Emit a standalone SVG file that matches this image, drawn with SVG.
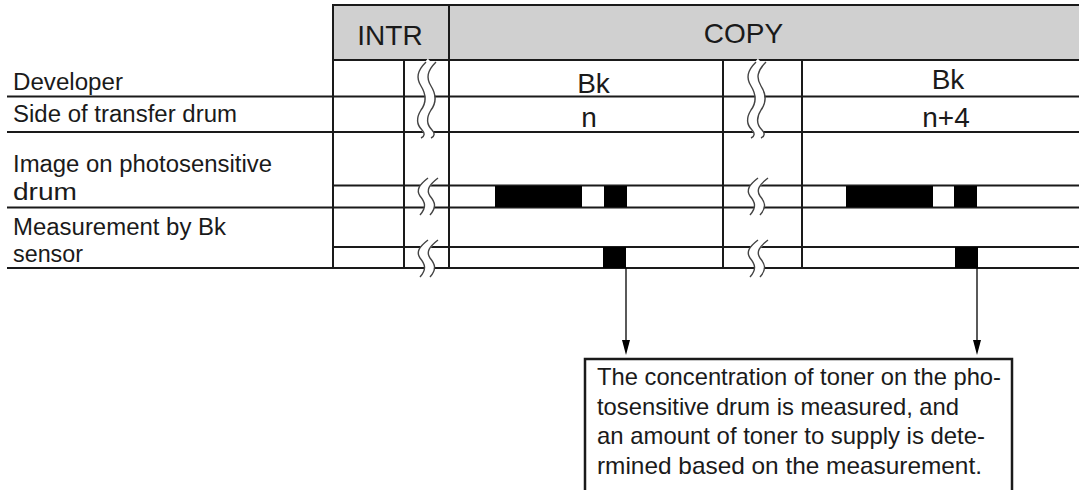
<svg xmlns="http://www.w3.org/2000/svg" width="1079" height="490" viewBox="0 0 1079 490">
<defs>
<style>
.ln{stroke:#1a1a1a;stroke-width:2;fill:none}
.txt{font-family:"Liberation Sans",Arial,sans-serif;fill:#1a1a1a}
.lbl{font-size:23px}
.hdr{font-size:28px;text-anchor:middle}
.cell{font-size:28px;text-anchor:middle}
.note{font-size:24px}
.wave{stroke:#444;stroke-width:1.4;fill:none}
.gap{stroke:#fff;stroke-width:9;fill:none}
.blk{fill:#000}
</style>
<path id="sw" d="M 12 0 C 3 7, 0 12, 4 18 C 9 24, 11 29, 4 37"/>
<path id="tw" d="M 10 0 C 1 9, 0 16, 5 24 C 10 32, 11 40, 5 48 C 0 56, 1 63, 6 68 C 9 71, 9 74, 5 76"/>
<g id="sq-short">
<use href="#sw" class="gap" x="5"/>
<use href="#sw" class="wave"/>
<use href="#sw" class="wave" x="10"/>
</g>
<g id="sq-tall">
<use href="#tw" class="gap" x="5"/>
<use href="#tw" class="wave"/>
<use href="#tw" class="wave" x="10"/>
</g>
</defs>
<rect width="1079" height="490" fill="#fff"/>

<g id="header">
<rect x="333" y="5" width="746" height="55" fill="#d0d0d0"/>
<g id="node-intr"><text class="txt hdr" x="390" y="45">INTR</text></g>
<g id="node-copy"><text class="txt hdr" x="743.5" y="43">COPY</text></g>
</g>

<g id="grid">
<line class="ln" x1="333" y1="5" x2="1079" y2="5"/>
<line class="ln" x1="333" y1="60" x2="1079" y2="60"/>
<line class="ln" x1="7" y1="96.5" x2="1079" y2="96.5"/>
<line class="ln" x1="7" y1="132" x2="1079" y2="132"/>
<line class="ln" x1="333" y1="185.5" x2="1079" y2="185.5"/>
<line class="ln" x1="7" y1="207.5" x2="1079" y2="207.5"/>
<line class="ln" x1="333" y1="247" x2="1079" y2="247"/>
<line class="ln" x1="7" y1="268" x2="1079" y2="268"/>
<line class="ln" x1="333" y1="4" x2="333" y2="269"/>
<line class="ln" x1="404" y1="60" x2="404" y2="269"/>
<line class="ln" x1="449" y1="4" x2="449" y2="269"/>
<line class="ln" x1="723" y1="60" x2="723" y2="269"/>
<line class="ln" x1="802" y1="60" x2="802" y2="269"/>
</g>

<g id="squiggles">
<use href="#sq-tall" x="416" y="62"/>
<use href="#sq-short" x="416" y="178"/>
<use href="#sq-short" x="416" y="240"/>
<use href="#sq-tall" x="746" y="62"/>
<use href="#sq-short" x="746" y="178"/>
<use href="#sq-short" x="746" y="240"/>
</g>

<g id="row-labels">
<g id="node-developer"><text class="txt lbl" x="13" y="90" textLength="110" lengthAdjust="spacingAndGlyphs">Developer</text></g>
<g id="node-side"><text class="txt lbl" x="13" y="122" textLength="224" lengthAdjust="spacingAndGlyphs">Side of transfer drum</text></g>
<g id="node-image"><text class="txt lbl" x="13" y="172" textLength="259" lengthAdjust="spacingAndGlyphs">Image on photosensitive</text>
<text class="txt lbl" x="13" y="200" textLength="64" lengthAdjust="spacingAndGlyphs">drum</text></g>
<g id="node-measure"><text class="txt lbl" x="13" y="235" textLength="213" lengthAdjust="spacingAndGlyphs">Measurement by Bk</text>
<text class="txt lbl" x="13" y="262" textLength="70" lengthAdjust="spacingAndGlyphs">sensor</text></g>
</g>

<g id="cells">
<g id="node-bk1"><text class="txt cell" x="593.5" y="93">Bk</text></g>
<g id="node-n"><text class="txt cell" x="589" y="127">n</text></g>
<g id="node-bk2"><text class="txt cell" x="948" y="89">Bk</text></g>
<g id="node-n4"><text class="txt cell" x="946" y="127">n+4</text></g>
</g>

<g id="blocks">
<rect class="blk" x="495" y="186" width="87" height="21"/>
<rect class="blk" x="604" y="186" width="23" height="21"/>
<rect class="blk" x="846" y="186" width="87" height="21"/>
<rect class="blk" x="954" y="186" width="23" height="21"/>
<rect class="blk" x="603" y="247" width="23" height="21"/>
<rect class="blk" x="955" y="247" width="23" height="21"/>
</g>

<g id="connectors">
<line x1="626" y1="268" x2="626" y2="341" stroke="#000" stroke-width="1.3"/>
<polygon points="622,340 630,340 626,355" fill="#000"/>
<line x1="977" y1="268" x2="977" y2="341" stroke="#000" stroke-width="1.3"/>
<polygon points="973,340 981,340 977,355" fill="#000"/>
</g>

<g id="node-note">
<rect x="585" y="359" width="427" height="140" fill="#fff" stroke="#1a1a1a" stroke-width="2.5"/>
<text class="txt note" x="597" y="385" textLength="404" lengthAdjust="spacingAndGlyphs">The concentration of toner on the pho-</text>
<text class="txt note" x="597" y="414.5" textLength="362" lengthAdjust="spacingAndGlyphs">tosensitive drum is measured, and</text>
<text class="txt note" x="597" y="444" textLength="388" lengthAdjust="spacingAndGlyphs">an amount of toner to supply is dete-</text>
<text class="txt note" x="597" y="473.5" textLength="385" lengthAdjust="spacingAndGlyphs">rmined based on the measurement.</text>
</g>
</svg>
